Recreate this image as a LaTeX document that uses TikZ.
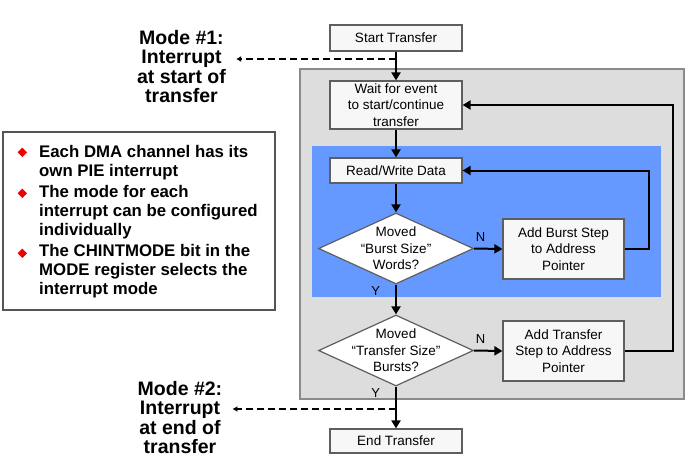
\documentclass[tikz,border=0pt]{standalone}
\usepackage{fontspec}
\setmainfont{Liberation Sans}
\usetikzlibrary{shapes.geometric,arrows.meta}
\definecolor{panelgray}{HTML}{DDDDDD}
\definecolor{burstblue}{HTML}{6699FF}
\definecolor{boxfill}{HTML}{F7F7F7}
\definecolor{edgegray}{HTML}{5E5E5E}
\definecolor{paneledge}{HTML}{8A8A8A}
\definecolor{noteedge}{HTML}{555555}
\definecolor{markred}{HTML}{EE0000}

\tikzset{
  stepbox/.style={draw=edgegray, fill=boxfill, line width=1.2pt, minimum width=132pt,
    minimum height=26pt, inner sep=0pt, align=center, font=\fontsize{13.5}{16.5}\selectfont},
  decision/.style={diamond, draw=edgegray, fill=white, line width=1.2pt, inner sep=0pt,
    minimum width=155pt, minimum height=71pt},
  dectext/.style={align=center, inner sep=0pt, font=\fontsize{13.5}{16.5}\selectfont},
  yn/.style={inner sep=0pt, font=\fontsize{13}{15}\selectfont},
  flow/.style={line width=2pt, -{Triangle[length=8pt,width=9pt]}},
  tap/.style={line width=1.8pt, dash pattern=on 7pt off 4pt, -{Latex[length=5pt,width=6pt]}},
  modetext/.style={align=center, inner ysep=0pt, inner xsep=10pt,
    font=\bfseries\fontsize{19.5}{19.4}\selectfont},
  itemtext/.style={align=left, inner sep=0pt, anchor=west,
    font=\bfseries\fontsize{16.8}{19}\selectfont},
  itemmark/.style={diamond, fill=markred, inner sep=0pt, minimum width=9.5pt, minimum height=9.5pt}
}

\begin{document}
\begin{tikzpicture}[x=1pt,y=-1pt]
\useasboundingbox (0,0) rectangle (692,463);

% panels behind the flow
\draw[draw=paneledge, fill=panelgray, line width=1.3pt] (300,69) rectangle (684,399);
\fill[burstblue] (312,146) rectangle (661,297);

% flow steps
\node[stepbox] (start) at (396,38) {Start Transfer};
\node[stepbox, minimum height=48pt] (wait) at (396,105) {Wait for event\\to start/continue\\transfer};
\node[stepbox, minimum height=25pt] (rw) at (396,170.5) {Read/Write Data};
\node[decision] (moved1) at (396,248.5) {};
\node[dectext] at (moved1) {Moved\\“Burst Size”\\Words?};
\node[stepbox, minimum width=121pt, minimum height=60pt] (burst) at (563.5,249) {Add Burst Step\\to Address\\Pointer};
\node[decision] (moved2) at (396,350.5) {};
\node[dectext] at (moved2) {Moved\\“Transfer Size”\\Bursts?};
\node[stepbox, minimum width=121pt, minimum height=60pt] (xfer) at (563.5,351) {Add Transfer\\Step to Address\\Pointer};
\node[stepbox, minimum height=24pt] (end) at (396,441) {End Transfer};

% connectors
\draw[flow] (start) -- (wait);
\draw[flow] (wait) -- (rw);
\draw[flow] (rw) -- (moved1);
\draw[flow] (moved1.east) -- node[yn, above=6pt, pos=0.23] {N} (burst.west);
\draw[flow] (burst.east) -- ++(24,0) |- (rw.east);
\draw[flow] (moved1.south) -- node[yn, left=15pt, pos=0.22] {Y} (moved2.north);
\draw[flow] (moved2.east) -- node[yn, above=6pt, pos=0.23] {N} (xfer.west);
\draw[flow] (xfer.east) -- ++(48,0) |- (wait.east);
\draw[flow] (moved2.south) -- node[yn, left=15pt, pos=0.15] {Y} (end.north);

% interrupt modes
\node[modetext] (mode1) at (181.5,66.7) {Mode \#1:\\Interrupt\\at start of\\transfer};
\node[modetext] (mode2) at (180,417.5) {Mode \#2:\\Interrupt\\at end of\\transfer};
\coordinate (tap1) at (396,59);
\coordinate (tap2) at (396,409);
\draw[tap] (tap1) -- (tap1 -| mode1.east);
\draw[tap] (tap2) -- (tap2 -| mode2.east);

% notes
\draw[draw=noteedge, fill=white, line width=1.2pt] (3,132) rectangle (275,310);
\node[itemmark] (mark1) at (22.3,152.3) {};
\node[itemmark] (mark2) at (22.3,193.3) {};
\node[itemmark] (mark3) at (22.3,253.3) {};
\node[itemtext] (item1) at (39,162.8) {Each DMA channel has its\\own PIE interrupt};
\node[itemtext] (item2) at (39,212.6) {The mode for each\\interrupt can be configured\\individually};
\node[itemtext] (item3) at (39,271.6) {The CHINTMODE bit in the\\MODE register selects the\\interrupt mode};
\end{tikzpicture}
\end{document}
